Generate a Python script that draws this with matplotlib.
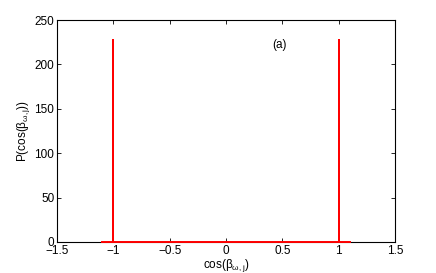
import matplotlib.pyplot as plt

# distribution of cos(beta_{w,j}) : spikes at -1 and +1
x_vals = [-1.1, -1.0, -1.0, -1.0, 1.0, 1.0, 1.0, 1.1]
p_vals = [0, 0, 228, 0, 0, 228, 0, 0]

x_ticks = [-1.5, -1, -0.5, 0, 0.5, 1, 1.5]
x_ticklabels = ['\u22121.5', '\u22121', '\u22120.5', '0', '0.5', '1', '1.5']
y_ticks = [0, 50, 100, 150, 200, 250]

plt.rcParams['font.family'] = ['Liberation Sans', 'DejaVu Sans']
plt.rcParams['mathtext.fontset'] = 'custom'
plt.rcParams['mathtext.rm'] = 'Liberation Sans'
plt.rcParams['mathtext.it'] = 'Liberation Sans'

fig = plt.figure(figsize=(4.36, 2.73), dpi=100)
ax = fig.add_axes([0.131, 0.1136, 0.775, 0.813])

ax.plot(x_vals, p_vals, color='red', linewidth=1.4, clip_on=False, zorder=5)

ax.set_xlim(-1.5, 1.5)
ax.set_ylim(0, 250)
ax.set_xticks(x_ticks)
ax.set_xticklabels(x_ticklabels)
ax.set_yticks(y_ticks)
ax.tick_params(direction='in', top=True, right=True, labelsize=8.5, length=3, width=0.6, pad=2)
for s in ax.spines.values():
    s.set_linewidth(0.8)

ax.set_xlabel(r'cos($\beta_{\omega,j}$)', fontsize=8.5, labelpad=0)
ax.set_ylabel(r'P(cos($\beta_{\omega,j}$))', fontsize=8.5, labelpad=2)
ax.text(0.47, 222, '(a)', fontsize=8.5, ha='center', va='center')

fig.savefig('out.png', dpi=100)
